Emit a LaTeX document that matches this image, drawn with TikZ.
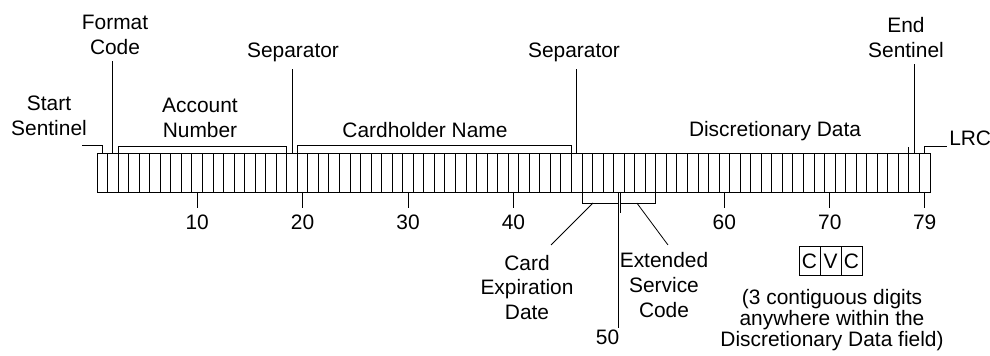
\documentclass[tikz,border=0pt]{standalone}
\usepackage{fontspec}
\setmainfont{Liberation Sans}
\usetikzlibrary{positioning}
\tikzset{
  trkcell/.style={rectangle, draw, minimum width=2.1088mm, minimum height=7.8mm,
                  inner sep=0pt, outer sep=0pt},
  trklabel/.style={align=center, font=\fontsize{11.9}{14.2}\selectfont},
  trknum/.style={font=\fontsize{11.9}{14.2}\selectfont},
  trknote/.style={align=center, font=\fontsize{11.9}{11.9}\selectfont},
  trkbox/.style={trkcell, minimum width=4.2mm, minimum height=5.8mm,
                 font=\fontsize{11.9}{14.2}\selectfont},
  trklead/.style={draw, line width=0.55pt},
  trkslant/.style={draw, line width=0.45pt}
}

\begin{document}
\begin{tikzpicture}[x=0.2mm, y=0.2mm, line width=0.55pt]
  \useasboundingbox (0,0) rectangle (990,356);
  \foreach \i in {1,...,79} {
    \node[trkcell] (c\i) at ({97+(\i-0.5)*10.544}, 183.5) {};
  }
  \node[trklabel] (start) at (49,240) {Start\\Sentinel};
  \node[trklabel] (format) at (115,321) {Format\\Code};
  \node[trklabel] (account) at (200,238.5) {Account\\Number};
  \node[trklabel, anchor=base] (sepa) at (293,298) {Separator};
  \node[trklabel, anchor=base] (name) at (425,218) {Cardholder Name};
  \node[trklabel, anchor=base] (sepb) at (574,298) {Separator};
  \node[trklabel, anchor=base] (disc) at (775,219) {Discretionary Data};
  \node[trklabel] (endsent) at (906,318.5) {End\\Sentinel};
  \node[trklabel, anchor=base west, inner xsep=1pt] (lrc) at (947,210) {LRC};
  \coordinate (start-end) at (82,211);
  \draw[trklead] (c1.north) |- (start-end);
  \draw[trklead] (c2.north) -- (c2.north |- format.south);
  \draw[trklead] (c3.north west) -- ++(0,7) -| (c18.north east);
  \draw[trklead] (c19.north) -- (c19.north |- sepa.south);
  \draw[trklead] (c20.north west) -- ++(0,8) -| (c45.north east);
  \draw[trklead] (c46.north) -- (c46.north |- sepb.south);
  \draw[trklead] (c78.north west) -- ++(0,6);
  \draw[trklead] (c78.north) -- (c78.north |- endsent.south);
  \draw[trklead] (c79.north) |- (lrc.base west);

  \coordinate (numrow) at (0,134);
  \foreach \n in {10,20,30,40,60,70,79} {
    \node[trknum] (n\n) at (c\n.south |- numrow) {\n};
    \draw[trklead] (c\n.south) -- (n\n.north);
  }
  \node[trknum, inner sep=1pt] (n50) at (607.5,18.5) {50};
  \draw[trklead] (c50.south) -- (c50.south |- n50.north);
  \draw[trklead] (c47.south west) -- ++(0,-11) -| (c50.south);
  \draw[trklead] ([xshift=0.4mm]c50.south) -- ++(0,-21);
  \draw[trklead] (c53.south east) -- ++(0,-11) -| ([xshift=0.4mm]c50.south);

  \node[trklabel] (cardexp) at (527,68.5) {Card\\Expiration\\Date};
  \node[trklabel] (svc) at (664,71) {Extended\\Service\\Code};
  \coordinate (cardexp-tip) at (551,111);
  \coordinate (svc-tip) at (668,111);
  \draw[trkslant] ([shift={(11,-11)}]c47.south west) -- (cardexp-tip);
  \draw[trkslant] ([shift={(-19,-11)}]c53.south east) -- (svc-tip);

  \node[trkbox] (cvc1) at (809.5,95) {C};
  \node[trkbox, right=0pt of cvc1] (cvc2) {V};
  \node[trkbox, right=0pt of cvc2] (cvc3) {C};
  \node[trknote] (note) at (832,36)
    {(3 contiguous digits\\anywhere within the\\Discretionary Data field)};
\end{tikzpicture}
\end{document}
